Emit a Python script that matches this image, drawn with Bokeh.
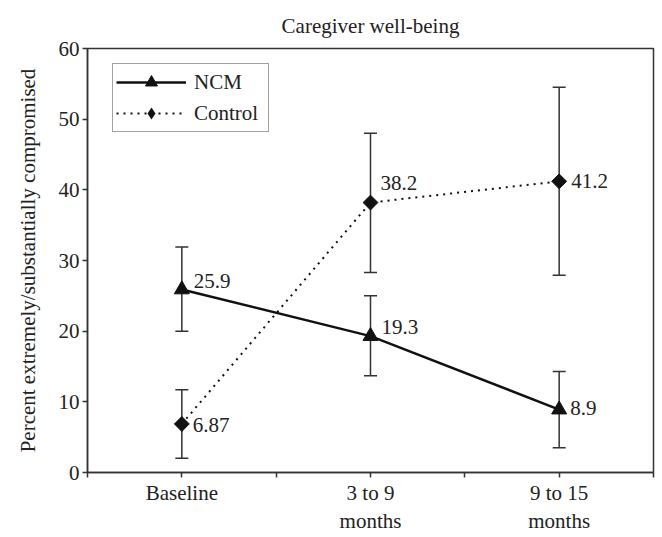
import math
from bokeh.plotting import figure
from bokeh.models import ColumnDataSource, Whisker, TeeHead, FixedTicker, Range1d, Title, Legend, LegendItem, Label
from bokeh.embed import file_html
from bokeh.resources import INLINE

# ---- data ----
categories = ["Baseline", "3 to 9\nmonths", "9 to 15\nmonths"]
series_names = ["NCM", "Control"]
ncm_values = [25.9, 19.3, 8.9]
ncm_lower = [20.0, 13.7, 3.5]
ncm_upper = [31.9, 25.0, 14.3]
control_values = [6.87, 38.2, 41.2]
control_lower = [2.0, 28.3, 27.9]
control_upper = [11.7, 48.0, 54.5]
ncm_text = ["25.9", "19.3", "8.9"]
control_text = ["6.87", "38.2", "41.2"]
y_ticks = [0, 10, 20, 30, 40, 50, 60]

# label placement (screen px, y up)
ncm_dx = [12, 11, 11]
ncm_dy = [8, 9, 2]
ctl_dx = [11, 10, 12]
ctl_dy = [-1, 20, 0]

FONT = "Liberation Serif"
INK = "#222222"
FS = "21px"

xs = [i + 0.5 for i in range(len(categories))]

p = figure(width=662, height=537, output_backend="svg", toolbar_location=None,
           x_range=Range1d(0, len(categories)), y_range=Range1d(0, 60),
           min_border_left=87, min_border_right=9, min_border_top=46, min_border_bottom=65)
p.title = Title(text="Caregiver well-being", align="center", text_font=FONT,
                text_font_size="21px", text_font_style="normal", text_color=INK,
                standoff=22)
p.grid.visible = False
p.outline_line_color = "#333333"
p.outline_line_width = 1.5
p.background_fill_color = "white"
p.border_fill_color = "white"

# axes
tick_positions = [i * 0.5 for i in range(2 * len(categories) + 1)]
p.xaxis.ticker = FixedTicker(ticks=tick_positions)
overrides = {}
for t in tick_positions:
    overrides[t] = ""
for x, c in zip(xs, categories):
    overrides[x] = c
p.xaxis.major_label_overrides = overrides
p.yaxis.ticker = FixedTicker(ticks=y_ticks)
p.yaxis.axis_label = "Percent extremely/substantially compromised"
for ax in (p.xaxis, p.yaxis):
    ax.axis_line_color = "#333333"
    ax.axis_line_width = 1.5
    ax.major_tick_line_color = "#333333"
    ax.major_tick_line_width = 1.5
    ax.major_tick_out = 5
    ax.major_tick_in = 0
    ax.minor_tick_line_color = None
    ax.major_label_text_font = FONT
    ax.major_label_text_font_size = FS
    ax.major_label_text_color = INK
    ax.axis_label_text_font = FONT
    ax.axis_label_text_font_size = "21px"
    ax.axis_label_text_font_style = "normal"
    ax.axis_label_text_color = INK
p.xaxis.major_label_standoff = 3
p.yaxis.major_label_standoff = 3
p.yaxis.axis_label_standoff = 16

# error bars
ncm_src = ColumnDataSource(dict(x=xs, y=ncm_values, lo=ncm_lower, hi=ncm_upper))
ctl_src = ColumnDataSource(dict(x=xs, y=control_values, lo=control_lower, hi=control_upper))
for src in (ncm_src, ctl_src):
    w = Whisker(base="x", lower="lo", upper="hi", source=src, level="underlay",
                line_color="#333333", line_width=1.5,
                upper_head=TeeHead(size=13, line_color="#333333", line_width=1.5),
                lower_head=TeeHead(size=13, line_color="#333333", line_width=1.5))
    p.add_layout(w)

# lines + markers
l1 = p.line("x", "y", source=ncm_src, line_color="#111111", line_width=2.5)
m1 = p.scatter("x", "y", source=ncm_src, marker="triangle", size=15,
               fill_color="#111111", line_color="#111111")
l2 = p.line("x", "y", source=ctl_src, line_color="#111111", line_width=2,
            line_dash="2 5")
m2 = p.scatter("x", "y", source=ctl_src, marker="square", size=10.5, angle=math.pi / 4,
               fill_color="#111111", line_color="#111111")
# legend proxy: diamond drawn only in the legend (zero size in the plot)
m2_key = p.scatter("x", "y", source=ctl_src, marker="diamond", size=0,
                   fill_color="#111111", line_color=None)

# value labels
for vals, texts, dxs, dys in ((ncm_values, ncm_text, ncm_dx, ncm_dy),
                              (control_values, control_text, ctl_dx, ctl_dy)):
    for x, v, t, dx, dy in zip(xs, vals, texts, dxs, dys):
        p.add_layout(Label(x=x, y=v, text=t, x_offset=dx, y_offset=dy,
                           text_font=FONT, text_font_size=FS, text_color=INK,
                           text_align="left", text_baseline="middle"))

legend = Legend(items=[LegendItem(label=series_names[0], renderers=[l1, m1]),
                       LegendItem(label=series_names[1], renderers=[l2, m2_key])],
                location=(25, 340), orientation="vertical",
                glyph_width=70, glyph_height=30, label_height=30, label_width=71,
                spacing=1, label_standoff=8, padding=3, margin=0,
                label_text_font=FONT, label_text_font_size=FS, label_text_color=INK,
                border_line_color="#444444", border_line_width=1.5,
                background_fill_color="white", background_fill_alpha=1.0)
p.add_layout(legend, "center")

open("out.html", "w").write(file_html(p, INLINE))
